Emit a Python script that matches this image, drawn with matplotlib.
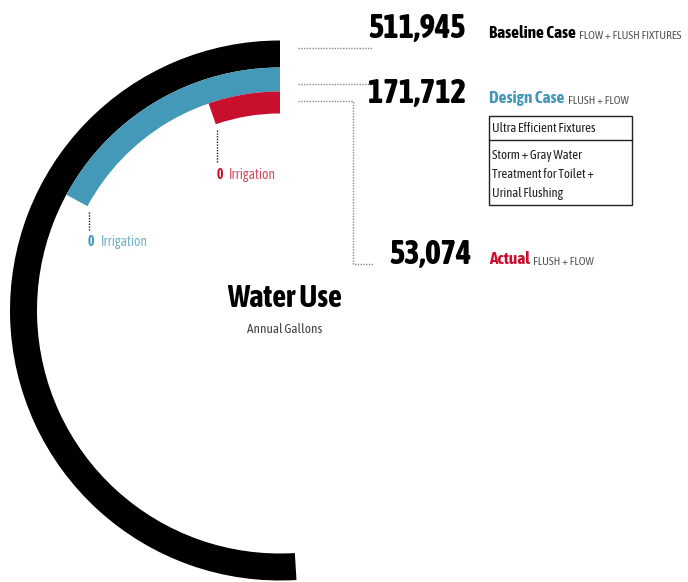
import numpy as np
import matplotlib
matplotlib.use('Agg')
import matplotlib.pyplot as plt
from matplotlib.patches import Wedge, Rectangle
from matplotlib import font_manager

# data
cases = ['Baseline Case', 'Design Case', 'Actual']
subtitles = ['FLOW + FLUSH FIXTURES', 'FLUSH + FLOW', 'FLUSH + FLOW']
gallons = [511945, 171712, 53074]
irrigation = [None, 0, 0]
strategies = ['Ultra Efficient Fixtures', 'Storm + Gray Water\nTreatment for Toilet +\nUrinal Flushing']
colors = ['#000000', '#4599b8', '#c8102e']


# look for a condensed face that also has a bold cut
def wt(f):
    w = f.weight
    return w if isinstance(w, (int, float)) else font_manager.weight_dict.get(w, 400)


fonts = font_manager.fontManager.ttflist
sans = ['Noto Sans', 'Roboto', 'Open Sans', 'Liberation Sans', 'DejaVu Sans', 'Lato', 'Inter']
skip = ('Mono', 'Serif', 'CJK')
narrow = [f for f in fonts if ('Narrow' in f.name or 'Condensed' in f.name)
          and not any(s in f.name for s in skip)]
stretched = [f for f in fonts if f.stretch in ('condensed', 'semi-condensed') and f.name in sans]
bold_narrow = sorted({f.name for f in narrow if wt(f) >= 600})
bold_stretched = sorted({f.name for f in stretched if wt(f) >= 600})

FONT, STRETCH, k = 'DejaVu Sans', 'normal', 0.78
if bold_narrow:
    FONT, STRETCH, k = bold_narrow[0], 'normal', 1.0
elif bold_stretched:
    FONT, STRETCH, k = bold_stretched[0], 'condensed', 1.0
elif narrow:
    FONT, STRETCH, k = sorted({f.name for f in narrow})[0], 'normal', 1.0
plt.rcParams['font.family'] = [FONT, 'DejaVu Sans']
plt.rcParams['font.stretch'] = STRETCH

fig = plt.figure(figsize=(6.88, 5.82), dpi=100)
ax = fig.add_axes([0, 0, 1, 1])
ax.set_xlim(0, 688)
ax.set_ylim(582, 0)
ax.axis('off')

# arcs: baseline spans 183.5 degrees, the rest scaled to it
center = (280, 310.5)
full_span = 183.5
radii = [270, 243, 219]
widths = [27, 24, 22]
ends = []
for v, r, w, c in zip(gallons, radii, widths, colors):
    span = full_span * v / gallons[0]
    ax.add_patch(Wedge(center, r, 270 - span, 270, width=w, color=c, lw=0))
    a = np.radians(270 - span)
    ends.append((center[0] + (r - w) * np.cos(a), center[1] + (r - w) * np.sin(a)))

dot = (0, (1, 1))
# leaders to the numbers
ax.plot([298, 373], [47.5, 47.5], color='#888888', lw=1, ls=dot)
ax.plot([298, 372], [83.5, 83.5], color='#888888', lw=1, ls=dot)
ax.plot([298, 353, 353, 373], [100.5, 100.5, 263.5, 263.5], color='#888888', lw=1, ls=dot)

num_right = [466, 466, 472]
baselines = [38, 103, 264]
for i in range(3):
    ax.text(num_right[i], baselines[i], f'{gallons[i]:,}', ha='right', va='baseline',
            fontsize=23.5 * k, weight='heavy', color='black')
    t = ax.text(489, baselines[i], cases[i], ha='left', va='baseline', fontsize=12.4 * k,
                weight='bold', color=colors[i])
    ax.annotate(subtitles[i], xy=(1, 0), xycoords=t, xytext=(2.5, 0), textcoords='offset points',
                ha='left', va='bottom', fontsize=8.3 * k, color='#555555')

# design strategies box
ax.add_patch(Rectangle((489, 116), 143, 89, fill=False, ec='#222222', lw=1))
ax.plot([489, 632], [140, 140], color='#222222', lw=1)
ax.text(492, 128.5, strategies[0], va='center', fontsize=9.3 * k, color='#222222')
ax.text(492, 174.5, strategies[1], va='center', fontsize=9.3 * k, color='#222222', linespacing=1.65)

# irrigation labels under the arc ends
label_bottom = [None, 230, 163]
for i in (1, 2):
    x0, y0 = ends[i]
    lx = x0 + 1.5
    ax.plot([lx, lx], [y0 + 6, label_bottom[i]], color='#222222', lw=1, ls=dot)
    t = ax.text(lx - 1, label_bottom[i] + 16, str(irrigation[i]), ha='left', va='baseline',
                fontsize=10 * k, weight='bold', color=colors[i])
    ax.annotate('Irrigation', xy=(1, 0), xycoords=t, xytext=(4.5, 0), textcoords='offset points',
                ha='left', va='bottom', fontsize=9.8 * k, color=colors[i], alpha=0.75)

# title
ax.text(284.5, 307, 'Water Use', ha='center', va='baseline', fontsize=22 * k, weight='bold', color='black')
ax.text(284.5, 333, 'Annual Gallons', ha='center', va='baseline', fontsize=9.5 * k, color='#444444')

fig.savefig('out.png', dpi=100)
